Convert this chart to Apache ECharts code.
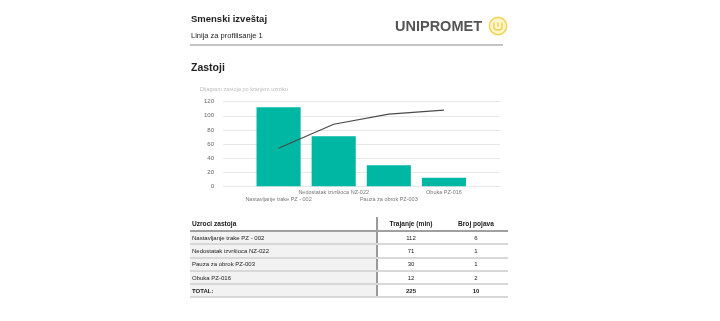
<!DOCTYPE html>
<html>
<head>
<meta charset="utf-8">
<script src="https://cdn.jsdelivr.net/npm/echarts@6/dist/echarts.min.js"></script>
<style>
    html, body { margin: 0; padding: 0; background: #fff; }
    body { width: 720px; height: 321px; position: relative; overflow: hidden; font-family: "Liberation Sans", Arial, sans-serif; color: #222; }
    #chart-zastoji { position: absolute; left: 0; top: 0; width: 720px; height: 321px; }
    .txt { position: absolute; white-space: nowrap; line-height: 1; }
    #naslov { left: 191px; top: 14px; font-size: 9.5px; font-weight: bold; }
    #linija { left: 191px; top: 32px; font-size: 7.5px; }
    #razdvajac { position: absolute; left: 190px; top: 44px; width: 313px; height: 2px; background: #c4c4c4; }
    #logo { left: 395px; top: 19px; font-size: 14.5px; font-weight: bold; color: #555; }
    #logo-ikona { position: absolute; left: 488px; top: 16px; }
    #zastoji { left: 191px; top: 62px; font-size: 10.5px; font-weight: bold; }
    #tabela { position: absolute; left: 190px; top: 217px; width: 318px; border-collapse: collapse; table-layout: fixed; font-size: 6px; }
    #tabela th, #tabela td { padding: 0 0 0 2px; white-space: nowrap; overflow: hidden; }
    #tabela th { height: 13px; font-weight: bold; font-size: 6.6px; border-bottom: 2px solid #a0a0a0; }
    #tabela td { height: 11.3px; border-bottom: 2px solid #d8d8d8; }
    #tabela .c1 { text-align: left; border-right: 2px solid #9a9a9a; }
    #tabela td.c1 { background: #f2f2f2; }
    #tabela .cn { text-align: center; }
    #tabela tr.total td { font-weight: bold; }
</style>
</head>
<body>
<div id="chart-zastoji"></div>

<div class="txt" id="naslov">Smenski izveštaj</div>
<div class="txt" id="linija">Linija za profilisanje 1</div>
<div id="razdvajac"></div>
<div class="txt" id="logo">UNIPROMET</div>
<svg id="logo-ikona" width="20" height="20" viewBox="0 0 20 20">
    <circle cx="10" cy="10" r="8.6" fill="#fff6cc" stroke="#f1d55a" stroke-width="1.6"/>
    <path d="M6 6.5 L6 11 Q6 14 10 14 Q14 14 14 11 L14 6.5 M10 6.5 L10 10.5" fill="none" stroke="#efd050" stroke-width="1.5"/>
</svg>
<div class="txt" id="zastoji">Zastoji</div>

<table id="tabela">
    <colgroup><col style="width:187px"><col style="width:65px"><col style="width:66px"></colgroup>
    <thead>
        <tr><th class="c1">Uzroci zastoja</th><th class="cn">Trajanje (min)</th><th class="cn">Broj pojava</th></tr>
    </thead>
    <tbody id="tabela-telo"></tbody>
</table>

<script>
// Podaci
var uzroci = ['Nastavljanje trake PZ - 002', 'Nedostatak izvršioca NZ-022', 'Pauza za obrok PZ-003', 'Obuka PZ-016'];
var trajanje = [112, 71, 30, 12];
var brojPojava = [6, 1, 1, 2];
// linija (procena sa slike)
var kumulativ = [54, 88, 102.5, 108];
var yTicks = [0, 20, 40, 60, 80, 100, 120];

// Tabela
var telo = document.getElementById('tabela-telo');
var ukupnoMin = 0;
var ukupnoPojava = 0;
for (var i = 0; i < uzroci.length; i++) {
    ukupnoMin += trajanje[i];
    ukupnoPojava += brojPojava[i];
    var tr = document.createElement('tr');
    tr.innerHTML = '<td class="c1">' + uzroci[i] + '</td><td class="cn">' + trajanje[i] + '</td><td class="cn">' + brojPojava[i] + '</td>';
    telo.appendChild(tr);
}
var trTotal = document.createElement('tr');
trTotal.className = 'total';
trTotal.innerHTML = '<td class="c1">TOTAL:</td><td class="cn">' + ukupnoMin + '</td><td class="cn">' + ukupnoPojava + '</td>';
telo.appendChild(trTotal);

// Grafik
var dom = document.getElementById('chart-zastoji');
var myChart = echarts.init(dom, null, { renderer: 'canvas' });

var option = {
    animation: false,
    title: {
        text: 'Dijagram zastoja po kranjem uzroku',
        left: 200,
        top: 86,
        padding: 0,
        textStyle: {
            fontSize: 5.5,
            fontWeight: 'normal',
            color: '#bdbdbd',
            fontFamily: 'Liberation Sans'
        }
    },
    // grid 0 samo za mrezu i brojeve, grid 1 za stubice
    grid: [
        { left: 223, right: 220, top: 101.7, bottom: 134.7 },
        { left: 251, right: 248.5, top: 101.7, bottom: 134.7 }
    ],
    xAxis: [
        { gridIndex: 0, type: 'value', min: 0, max: 1, show: false },
        {
            gridIndex: 1,
            type: 'category',
            data: uzroci,
            axisLine: { show: false },
            axisTick: { show: false },
            axisLabel: {
                interval: 0,
                margin: 3,
                fontSize: 5.5,
                lineHeight: 6.7,
                color: '#777',
                fontFamily: 'Liberation Sans',
                formatter: function (value, index) {
                    return index % 2 === 0 ? '\n' + value : value;
                }
            }
        }
    ],
    yAxis: [
        {
            gridIndex: 0,
            type: 'value',
            min: yTicks[0],
            max: yTicks[yTicks.length - 1],
            interval: yTicks[1] - yTicks[0],
            axisLine: { show: false },
            axisTick: { show: false },
            axisLabel: { margin: 9, fontSize: 6, color: '#666', fontFamily: 'Liberation Sans' },
            splitLine: { lineStyle: { color: '#e8e8e8', width: 1 } }
        },
        {
            gridIndex: 1,
            type: 'value',
            min: yTicks[0],
            max: yTicks[yTicks.length - 1],
            show: false
        }
    ],
    series: [
        {
            type: 'bar',
            xAxisIndex: 1,
            yAxisIndex: 1,
            barWidth: '80%',
            data: trajanje,
            itemStyle: { color: '#00b7a3' }
        },
        {
            type: 'line',
            xAxisIndex: 1,
            yAxisIndex: 1,
            data: kumulativ,
            symbol: 'none',
            lineStyle: { color: '#4a4a4a', width: 1.2 }
        }
    ]
};

myChart.setOption(option);
</script>
</body>
</html>
